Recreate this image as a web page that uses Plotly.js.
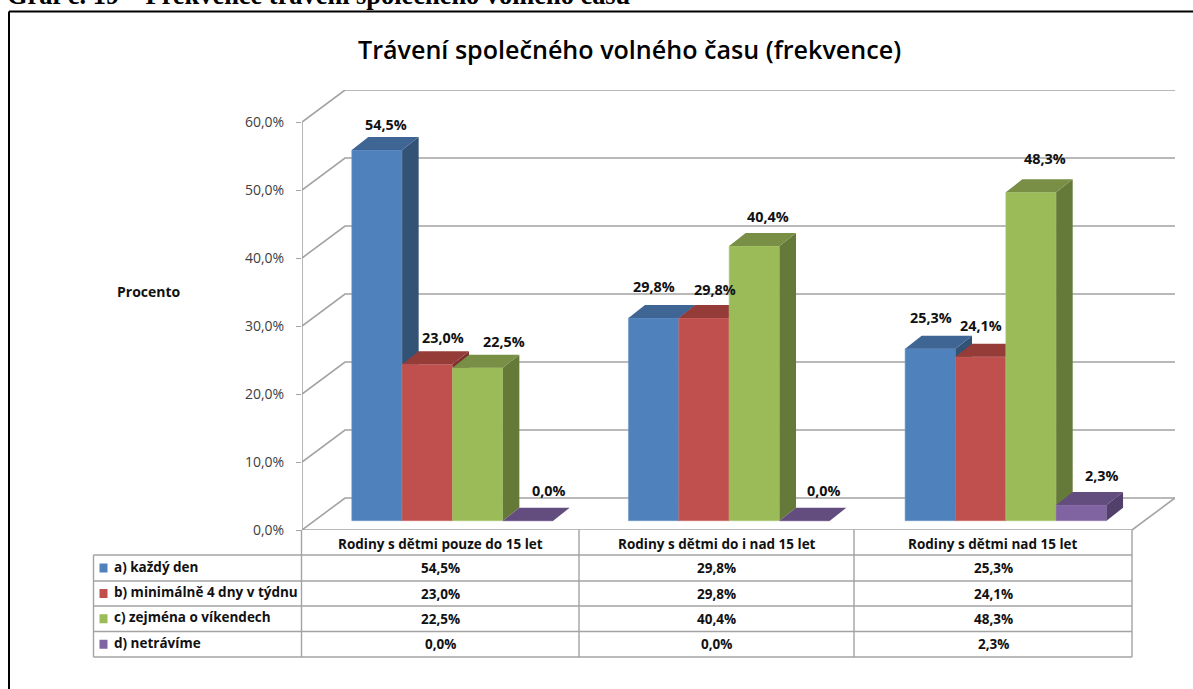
<!DOCTYPE html>
<html>
<head>
<meta charset="utf-8">
<script src="https://cdn.plot.ly/plotly-3.0.1.min.js"></script>
<style>html,body{margin:0;padding:0;background:#fff;overflow:hidden}#chart{width:1193px;height:689px}</style>
</head>
<body>
<div id="chart"></div>
<script>
// ---- data ----
const categories = ["Rodiny s dětmi pouze do 15 let", "Rodiny s dětmi do i nad 15 let", "Rodiny s dětmi nad 15 let"];
const seriesNames = ["a) každý den", "b) minimálně 4 dny v týdnu", "c) zejména o víkendech", "d) netrávíme"];
const valuesA = [54.5, 29.8, 25.3];
const valuesB = [23.0, 29.8, 24.1];
const valuesC = [22.5, 40.4, 48.3];
const valuesD = [0.0, 0.0, 2.3];
const yTicks = [0, 10, 20, 30, 40, 50, 60];
const chartTitle = "Trávení společného volného času (frekvence)";
const pageCaption = "Graf č. 19 – Frekvence trávení společného volného času";
const axisLabel = "Procento";

// ---- styles ----
const allValues = [valuesA, valuesB, valuesC, valuesD];
const faceColors = [
  {front: "#4F81BD", top: "#3E6594", side: "#325276", edge: "#6f97c8"},
  {front: "#C0504D", top: "#953C39", side: "#7C302E", edge: "#cc706d"},
  {front: "#9BBB59", top: "#788F45", side: "#657A39", edge: "#adc977"},
  {front: "#8064A2", top: "#634C7E", side: "#533F6C", edge: "#957db4"}
];
const gridColor = "#a3a3a3";
const uiFont = "'Open Sans', sans-serif";

// ---- geometry ----
const W = 1193, H = 689;
const px = x => x / W, py = y => 1 - y / H;
const xLeft = 302, xRightFront = 1132, xRightBack = 1175, yZero = 530, yTop = 90, pxPerPct = 6.8;
const groupPx = (xRightFront - xLeft) / categories.length;
const backDX = (xRightBack - xRightFront) / groupPx, backDY = (yZero - 498) / pxPerPct;
const barStart = 0.18, barW = 0.182, lift = 9.3 / pxPerPct, depthX = 16.5 / groupPx, depthY = 13 / pxPerPct;
const xMax = categories.length + backDX, yMax = (yZero - yTop) / pxPerPct;
const fmt = v => v.toFixed(1).replace(".", ",") + "%";

const traces = [];
// walls and floor, from the axis ticks
const gx = [], gy = [];
yTicks.forEach(t => {
  gx.push(0, backDX, xMax, null);
  gy.push(t, t + backDY, t + backDY, null);
});
traces.push({type: "scatter", mode: "lines", x: gx, y: gy, hoverinfo: "skip", showlegend: false,
  line: {color: gridColor, width: 1.6}, xaxis: "x", yaxis: "y"});
const lastTick = yTicks[yTicks.length - 1];
traces.push({type: "scatter", mode: "lines", hoverinfo: "skip", showlegend: false,
  x: [0, 0, null, 0, categories.length, xMax],
  y: [0, lastTick, null, 0, 0, backDY],
  line: {color: gridColor, width: 1.6}, xaxis: "x", yaxis: "y"});

const annotations = [];
// each series sits on its own overlaid axes so that it is painted over the one before it
allValues.forEach((vals, s) => {
  const n = s + 2, xa = "x" + n, ya = "y" + n, c = faceColors[s];
  const lefts = categories.map((_, g) => g + barStart + s * barW);
  traces.push({type: "bar", name: seriesNames[s], x: lefts.map(l => l + barW / 2), y: vals,
    base: vals.map(() => lift), width: barW, xaxis: xa, yaxis: ya, showlegend: false,
    marker: {color: c.front, line: {color: c.edge, width: 0.6}}});
  const sx = [], sy = [], tx = [], ty = [];
  vals.forEach((v, g) => {
    const l = lefts[g], r = l + barW, y0 = lift, y1 = lift + v;
    sx.push(r, r + depthX, r + depthX, r, r, null);
    sy.push(y0, y0 + depthY, y1 + depthY, y1, y0, null);
    tx.push(l, l + depthX, r + depthX, r, l, null);
    ty.push(y1, y1 + depthY, y1 + depthY, y1, y1, null);
  });
  traces.push({type: "scatter", mode: "lines", fill: "toself", fillcolor: c.side, x: sx, y: sy,
    line: {width: 0}, hoverinfo: "skip", showlegend: false, xaxis: xa, yaxis: ya});
  traces.push({type: "scatter", mode: "lines", fill: "toself", fillcolor: c.top, x: tx, y: ty,
    line: {width: 0}, hoverinfo: "skip", showlegend: false, xaxis: xa, yaxis: ya});
});

// data label nudges in pixels, [right, up] from the back-top centre of each bar
const labelNudge = [
  [[1, 13], [7, 14], [18, 13], [13, 17]],
  [[-8, 19], [3, 16], [5, 16], [11, 17]],
  [[-8, 18], [-8, 18], [6, 21], [12, 17]]
];
allValues.forEach((vals, s) => vals.forEach((v, g) => {
  const nudge = labelNudge[g][s];
  annotations.push({xref: "x6", yref: "y6", x: g + barStart + s * barW + barW / 2 + depthX / 2,
    y: lift + v + depthY, text: "<b>" + fmt(v) + "</b>", showarrow: false, xanchor: "center", yanchor: "middle",
    xshift: nudge[0], yshift: nudge[1], font: {family: uiFont, size: 14.4, color: "#111"}});
}));

// table
const colEdges = [93.5, 301.5, 579, 854, 1132];
const rowEdges = [530, 555, 581, 606, 631.5, 657];
const shapes = [];
const line = (x0, y0, x1, y1, color, width) => shapes.push({type: "line", xref: "paper", yref: "paper",
  x0: px(x0), y0: py(y0), x1: px(x1), y1: py(y1), line: {color, width}});
rowEdges.forEach((y, i) => { if (i) line(colEdges[0], y, colEdges[4], y, gridColor, 1.4); });
colEdges.forEach((x, i) => line(x, i ? rowEdges[0] : rowEdges[1], x, rowEdges[5], gridColor, 1.4));
const text = (x, y, t, anchor, font) => annotations.push({xref: "paper", yref: "paper", x: px(x), y: py(y),
  text: t, showarrow: false, xanchor: anchor, yanchor: "middle", font});
const tblFont = {family: uiFont, size: 13.5, color: "#111"};
categories.forEach((c, g) => text((colEdges[g + 1] + colEdges[g + 2]) / 2, 544, "<b>" + c + "</b>", "center", tblFont));
seriesNames.forEach((name, s) => {
  const yc = (rowEdges[s + 1] + rowEdges[s + 2]) / 2;
  shapes.push({type: "rect", xref: "paper", yref: "paper", x0: px(99.5), x1: px(107.5), y0: py(yc - 4.5), y1: py(yc + 4.5),
    fillcolor: faceColors[s].front, line: {width: 0}});
  text(112, yc - 1.5, "<b>" + name + "</b>", "left", tblFont);
  allValues[s].forEach((v, g) => text((colEdges[g + 1] + colEdges[g + 2]) / 2, yc, "<b>" + fmt(v) + "</b>", "center", tblFont));
});

// page frame, caption, title
line(9, 11.5, W + 2, 11.5, "#000", 2);
line(9, 11.5, 9, H + 2, "#000", 2);
text(5, -5, "<b>" + pageCaption + "</b>", "left", {family: "'Liberation Serif', serif", size: 26.4, color: "#000"});
text(630, 49, chartTitle, "center", {family: uiFont, size: 25.1, weight: 600, color: "#000"});
text(149, 292, "<b>" + axisLabel + "</b>", "center", {family: uiFont, size: 14, color: "#111"});

const layout = {
  width: W, height: H, autosize: false,
  margin: {l: 0, r: 0, t: 0, b: 0}, paper_bgcolor: "#fff", plot_bgcolor: "rgba(0,0,0,0)",
  barmode: "overlay", showlegend: false, shapes, annotations,
  xaxis: {domain: [px(xLeft), px(xRightBack)], range: [0, xMax], visible: false, fixedrange: true},
  yaxis: {domain: [py(yZero), py(yTop)], range: [0, yMax], fixedrange: true, showgrid: false, zeroline: false,
    showline: false, tickmode: "array", tickvals: yTicks, ticktext: yTicks.map(fmt), ticks: "outside", ticklen: 5,
    tickwidth: 1.4, tickcolor: gridColor, ticklabelstandoff: 9,
    tickfont: {family: uiFont, size: 14, color: "#404040"}}
};
for (let n = 2; n <= 6; n++) {
  layout["xaxis" + n] = {overlaying: "x", range: [0, xMax], visible: false, fixedrange: true, anchor: "y" + n};
  layout["yaxis" + n] = {overlaying: "y", range: [0, yMax], visible: false, fixedrange: true, anchor: "x" + n};
}
// empty last overlay that carries the data labels
traces.push({type: "scatter", mode: "markers", x: [0], y: [0], marker: {opacity: 0}, hoverinfo: "skip",
  showlegend: false, xaxis: "x6", yaxis: "y6"});

Plotly.newPlot("chart", traces, layout, {displayModeBar: false, responsive: false});
</script>
</body>
</html>
